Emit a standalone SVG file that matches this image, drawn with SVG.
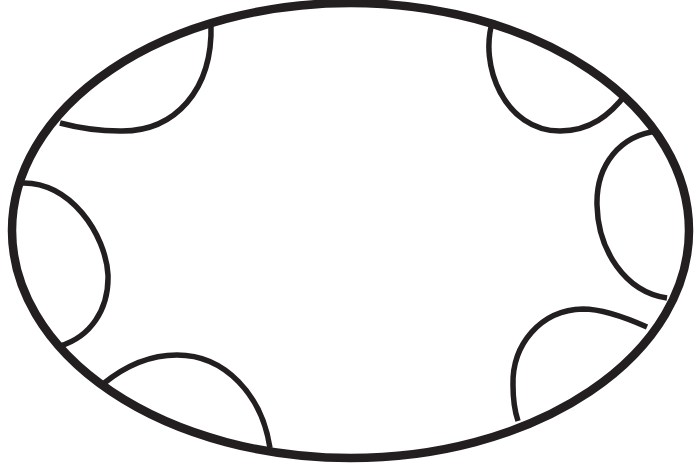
<svg xmlns="http://www.w3.org/2000/svg" width="700" height="471" viewBox="0 0 700 471">
<style>
.arc{fill:none;stroke:#231f20;stroke-width:5.5}
.rim{fill:none;stroke:#231f20;stroke-width:8.5}
</style>
<rect width="700" height="471" fill="#fff"/>
<g id="arcs">
<path class="arc" d="M211,24 C213,90 175,132 120,131 C95,131 75,127 60,123"/>
<path class="arc" d="M493,20 C478,65 505,131 560,131 C590,131 610,115 626,94"/>
<path class="arc" d="M658,131 C620,135 596,165 597,205 C598,250 625,292 667,298"/>
<path class="arc" d="M647,327 C620,315 600,309 583,309 C540,310 512,345 513,385 C513,400 515,412 518,421"/>
<path class="arc" d="M103,384 C125,366 150,355 177,355 C225,355 262,395 270,448"/>
<path class="arc" d="M20,183 C70,180 106,235 108,275 C109,310 90,337 60,346"/>
</g>
<ellipse class="rim" cx="350.5" cy="230.5" rx="338.5" ry="227.5"/>
</svg>
